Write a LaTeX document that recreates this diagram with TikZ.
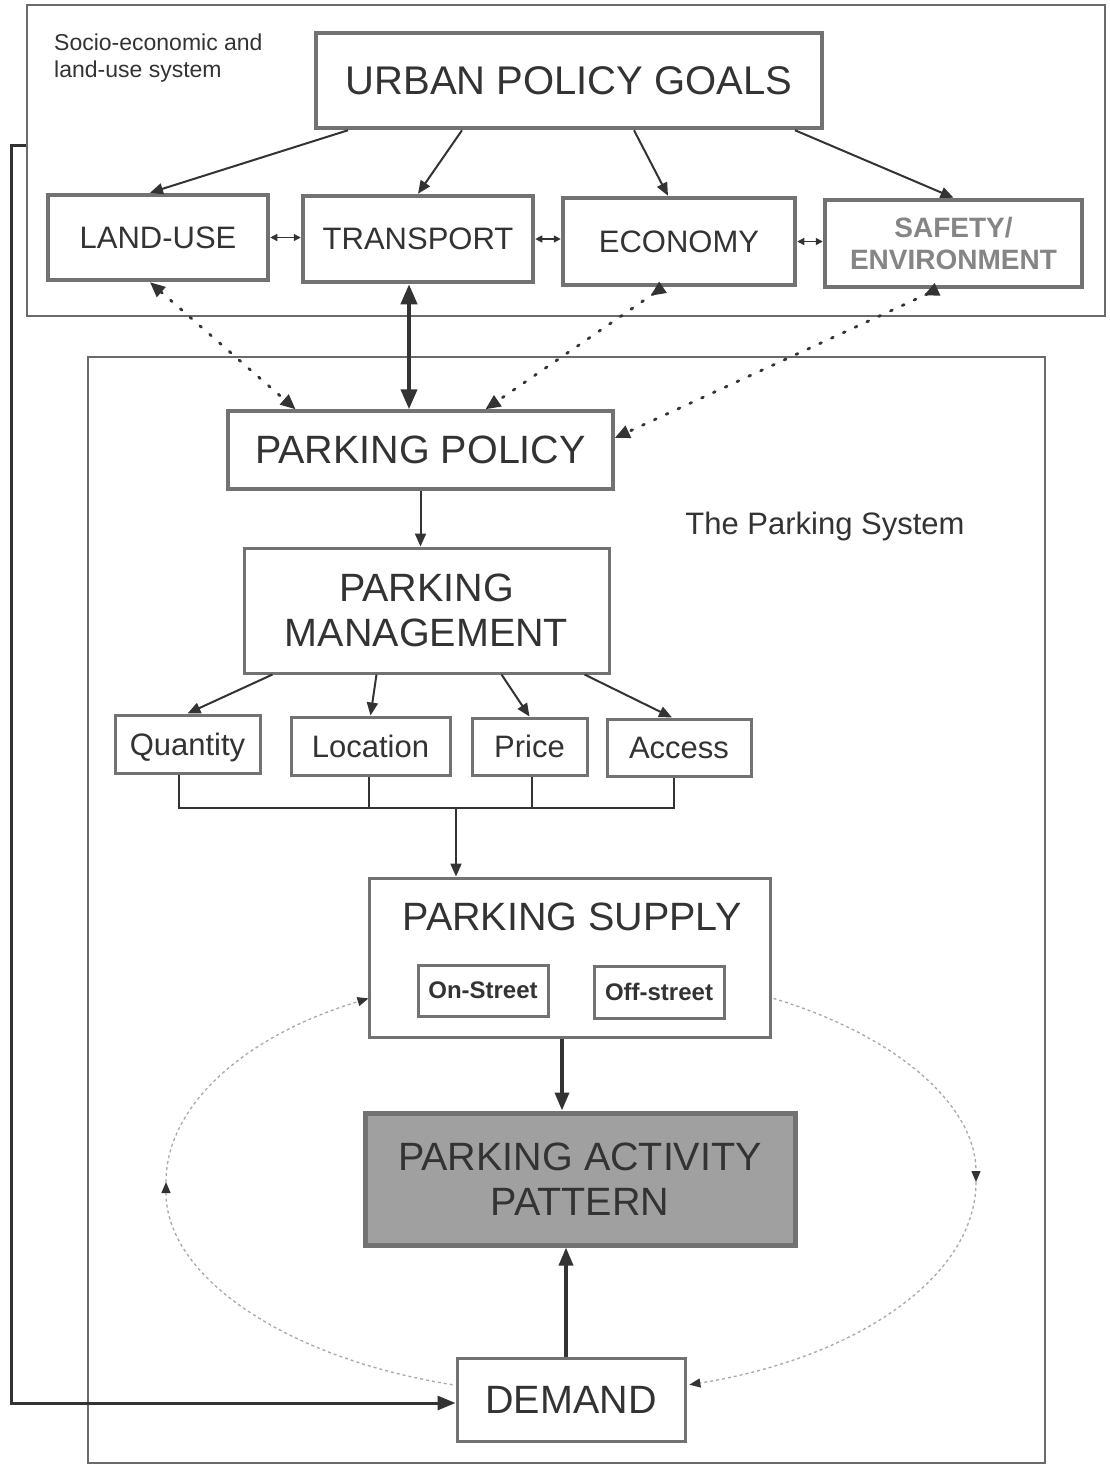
\documentclass[tikz,border=0pt]{standalone}
\usepackage{fontspec}
\setmainfont{Liberation Sans}
\usetikzlibrary{arrows.meta,calc}
\definecolor{ink}{HTML}{333333}
\definecolor{frame}{HTML}{727272}
\definecolor{outerc}{HTML}{6A6A6A}
\definecolor{papfill}{HTML}{A0A0A0}
\definecolor{loopc}{HTML}{A8A8A8}
\definecolor{safec}{HTML}{858585}
\newcommand\fzGoal{\fontsize{40}{45}\selectfont}
\newcommand\fzBig{\fontsize{39.5}{45}\selectfont}
\newcommand\fzMid{\fontsize{31}{35}\selectfont}
\newcommand\fzSafe{\fontsize{28}{32}\selectfont\bfseries}
\newcommand\fzSmall{\fontsize{24}{28}\selectfont\bfseries}
\newcommand\fzSocio{\fontsize{23}{27}\selectfont}
\begin{document}
\begin{tikzpicture}[x=1pt,y=-1pt,
  box/.style={draw=frame, line width=3pt, fill=white, inner sep=0pt, text=ink, align=center},
  topbox/.style={box, line width=4.5pt},
  container/.style={draw=outerc, line width=2pt, inner sep=0pt},
  conn/.style={draw=ink, line width=2pt, -{Triangle[length=13pt,width=11pt]}},
  wire/.style={draw=ink, line width=2pt},
  bigconn/.style={draw=ink, line width=3.5pt, -{Triangle[length=18pt,width=14pt]}},
  dbl/.style={draw=ink, line width=1.5pt, {Triangle[length=7pt,width=7pt]}-{Triangle[length=7pt,width=7pt]}},
  dots/.style={draw=ink, line width=2.8pt, line cap=round, dash pattern=on 2pt off 11pt},
  looptip/.style={-{Triangle[length=11pt,width=9pt,color=ink]}},
  loopline/.style={draw=loopc, line width=1.3pt, dash pattern=on 3pt off 3pt},
]
\useasboundingbox (0,0) rectangle (1110,1465);
\fill[white] (0,0) rectangle (1110,1465);

% containers
\node[container, minimum width=1078pt, minimum height=311pt] (socio) at (566,160.5) {};
\node[container, minimum width=957pt, minimum height=1106pt] (psys) at (566.5,910) {};

\node[font=\fzSocio, text=ink, align=left, anchor=north west, inner sep=0pt] (sociolbl) at (54,34) {Socio-economic and\\land-use system};
\node[font=\fzMid, text=ink, inner sep=0pt] (pslbl) at (825,526) {The Parking System};

% top boxes
\node[topbox, minimum width=506pt, minimum height=95pt, font=\fzGoal] (goals) at (569,80.5) {URBAN POLICY GOALS};
\node[topbox, minimum width=220pt, minimum height=85pt, font=\fzMid] (land) at (158,237.5) {\raisebox{-3pt}{LAND-USE}};
\node[topbox, minimum width=230pt, minimum height=86pt, font=\fzMid] (trans) at (418,239) {\raisebox{-3pt}{TRANSPORT}};
\node[topbox, minimum width=232pt, minimum height=87pt, font=\fzMid] (econ) at (679,241.5) {\raisebox{-2pt}{ECONOMY}};
\node[topbox, minimum width=257pt, minimum height=87pt, font=\fzSafe, text=safec] (safe) at (953.5,243.5) {SAFETY/\\ENVIRONMENT};

% parking system boxes
\node[box, line width=3.5pt, minimum width=385pt, minimum height=78pt, font=\fzBig] (pol) at (420.5,450) {\raisebox{-3pt}{PARKING POLICY}};
\node[box, minimum width=365pt, minimum height=125pt, font=\fzBig] (man) at (426.5,610.5) {PARKING\\MANAGEMENT};
\node[box, minimum width=145pt, minimum height=58pt, font=\fzMid, text depth=0pt] (qty) at (187.5,744) {Quantity};
\node[box, minimum width=159pt, minimum height=58pt, font=\fzMid] (loc) at (370.5,746) {Location};
\node[box, minimum width=115pt, minimum height=57pt, font=\fzMid] (price) at (529.5,746.5) {Price};
\node[box, minimum width=144pt, minimum height=57pt, font=\fzMid] (acc) at (679,747.5) {Access};

\node[box, minimum width=401pt, minimum height=159pt] (sup) at (569.5,957.5) {};
\node[font=\fzBig, text=ink, inner sep=0pt] (suplbl) at (572,917) {PARKING SUPPLY};
\node[box, minimum width=130pt, minimum height=51pt, font=\fzSmall] (on) at (483,990.5) {On-Street};
\node[box, minimum width=130pt, minimum height=52pt, font=\fzSmall] (off) at (659,992) {Off-street};

\node[box, line width=5pt, fill=papfill, minimum width=430pt, minimum height=132pt, font=\fzBig] (pap) at (580,1179) {PARKING ACTIVITY\\PATTERN};
\node[box, minimum width=228pt, minimum height=83pt, font=\fzBig] (dem) at (571,1399.5) {\raisebox{-2pt}{DEMAND}};

% goals to sub-systems
\draw[conn] ([xshift=-221pt]goals.south) -- ([xshift=-8pt]land.north);
\draw[conn] ([xshift=-107pt]goals.south) -- (trans.north);
\draw[conn] ([xshift=65pt]goals.south) -- ([xshift=-11pt]econ.north);
\draw[conn] ([xshift=226pt]goals.south) -- (safe.north);

\draw[dbl] (land.east) -- (land.east -| trans.west);
\draw[dbl] (trans.east) -- (trans.east -| econ.west);
\draw[dbl] (econ.east) -- (econ.east -| safe.west);

% transport <-> parking policy
\draw[draw=ink, line width=4pt, {Triangle[length=20pt,width=16pt]}-{Triangle[length=20pt,width=16pt]}] ([xshift=-9pt]trans.south) -- ([xshift=-9pt]trans.south |- pol.north);

% dotted links
\draw[dots, {Triangle[length=15pt,width=13pt]}-{Triangle[length=15pt,width=13pt]}] ([xshift=-8pt]land.south) -- ([xshift=-125pt]pol.north);
\draw[dots, {Triangle[reversed,length=15pt,width=13pt]}-{Triangle[length=15pt,width=13pt]}] ([xshift=-16pt]econ.south) -- ([xshift=65pt]pol.north);
\draw[dots, {Triangle[reversed,length=15pt,width=13pt]}-{Triangle[length=15pt,width=13pt]}] ([xshift=-16pt]safe.south) -- ([yshift=12pt]pol.east);

% policy to management
\draw[conn] (pol.south) -- (pol.south |- man.north);

% management to instruments
\draw[conn] ([xshift=-154pt]man.south) -- (qty.north);
\draw[conn] ([xshift=-50pt]man.south) -- (loc.north);
\draw[conn] ([xshift=75pt]man.south) -- (price.north);
\draw[conn] ([xshift=158pt]man.south) -- ([xshift=-7pt]acc.north);

% bus
\coordinate (bus) at (456,808);
\draw[wire] ([xshift=-9pt]qty.south) |- (bus) -| ([xshift=-5pt]acc.south);
\draw[wire] ([xshift=-1.5pt]loc.south) -- ([xshift=-1.5pt]loc.south |- bus);
\draw[wire] ([xshift=2.5pt]price.south) -- ([xshift=2.5pt]price.south |- bus);
\draw[conn] (bus) -- (bus |- sup.north);

% supply / demand to activity
\draw[bigconn] ([xshift=-7.5pt]sup.south) -- ([xshift=-7.5pt]sup.south |- pap.north);
\draw[bigconn] ([xshift=-5pt]dem.north) -- ([xshift=-5pt]dem.north |- pap.south);

% feedback from socio-economic system to demand
\coordinate (fb) at ([yshift=15.5pt]socio.west);
\draw[draw=ink, line width=3pt, -{Triangle[length=18pt,width=14pt]}] (fb) -- ++(-15,0) |- ([yshift=-3.5pt]dem.west);

% dotted loop
\coordinate (l0) at (452.6,1384.7);
\coordinate (l1) at (166,1182);
\coordinate (l2) at (368.5,998.4);
\coordinate (r0) at (773.5,998.4);
\coordinate (r1) at (976,1182);
\coordinate (r2) at (689.4,1384.7);
\draw[loopline, looptip] (l0) .. controls (282.3,1357.4) and (166,1275.2) .. (l1);
\draw[loopline, looptip] (l1) .. controls (166,1106.3) and (243.2,1036.3) .. (l2);
\draw[loopline, looptip] (r0) .. controls (898.8,1036.3) and (976,1106.3) .. (r1);
\draw[loopline, looptip] (r1) .. controls (976,1275.2) and (859.7,1357.4) .. (r2);
\end{tikzpicture}
\end{document}
